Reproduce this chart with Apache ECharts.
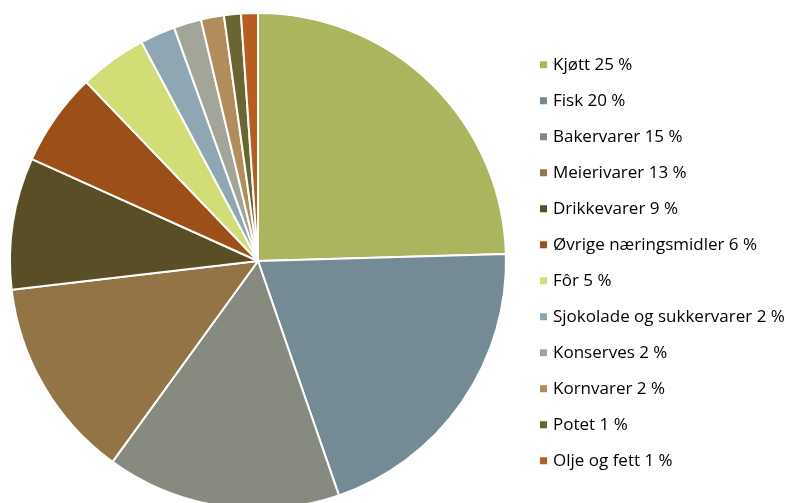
<!DOCTYPE html>
<html><head><meta charset="utf-8">
<script src="https://cdn.jsdelivr.net/npm/echarts@6/dist/echarts.min.js"></script>
<style>html,body{margin:0;padding:0;background:#fff}#c{width:792px;height:503px}</style>
</head><body><div id="c"></div>
<script>
const categories = ["Kjøtt","Fisk","Bakervarer","Meierivarer","Drikkevarer","Øvrige næringsmidler","Fôr","Sjokolade og sukkervarer","Konserves","Kornvarer","Potet","Olje og fett"];
const labels = ["Kjøtt 25 %","Fisk 20 %","Bakervarer 15 %","Meierivarer 13 %","Drikkevarer 9 %","Øvrige næringsmidler 6 %","Fôr 5 %","Sjokolade og sukkervarer 2 %","Konserves 2 %","Kornvarer 2 %","Potet 1 %","Olje og fett 1 %"];
const values = [24.6,20.2,15.3,13.2,8.6,6.1,4.4,2.3,1.8,1.5,1.1,1.1];
const colors = ["#ABB55E","#748A94","#878A7E","#927447","#594E26","#9C4F17","#D2DD76","#8FA7B2","#A2A597","#B28D5B","#6B6532","#B85C1F"];
const chart = echarts.init(document.getElementById('c'));
chart.setOption({
  animation:false,
  color:colors,
  legend:{orient:'vertical',left:533,top:49,itemWidth:9,itemHeight:9,itemGap:14.5,icon:'rect',
    textStyle:{fontFamily:'Open Sans',fontSize:17,color:'#000',lineHeight:21.5},
    data:labels},
  series:[{type:'pie',center:[258,261],radius:[0,248],startAngle:90,clockwise:true,
    label:{show:false},labelLine:{show:false},
    itemStyle:{borderColor:'#fff',borderWidth:2},
    data:labels.map((l,i)=>({name:l,value:values[i]}))}]
});
</script></body></html>
